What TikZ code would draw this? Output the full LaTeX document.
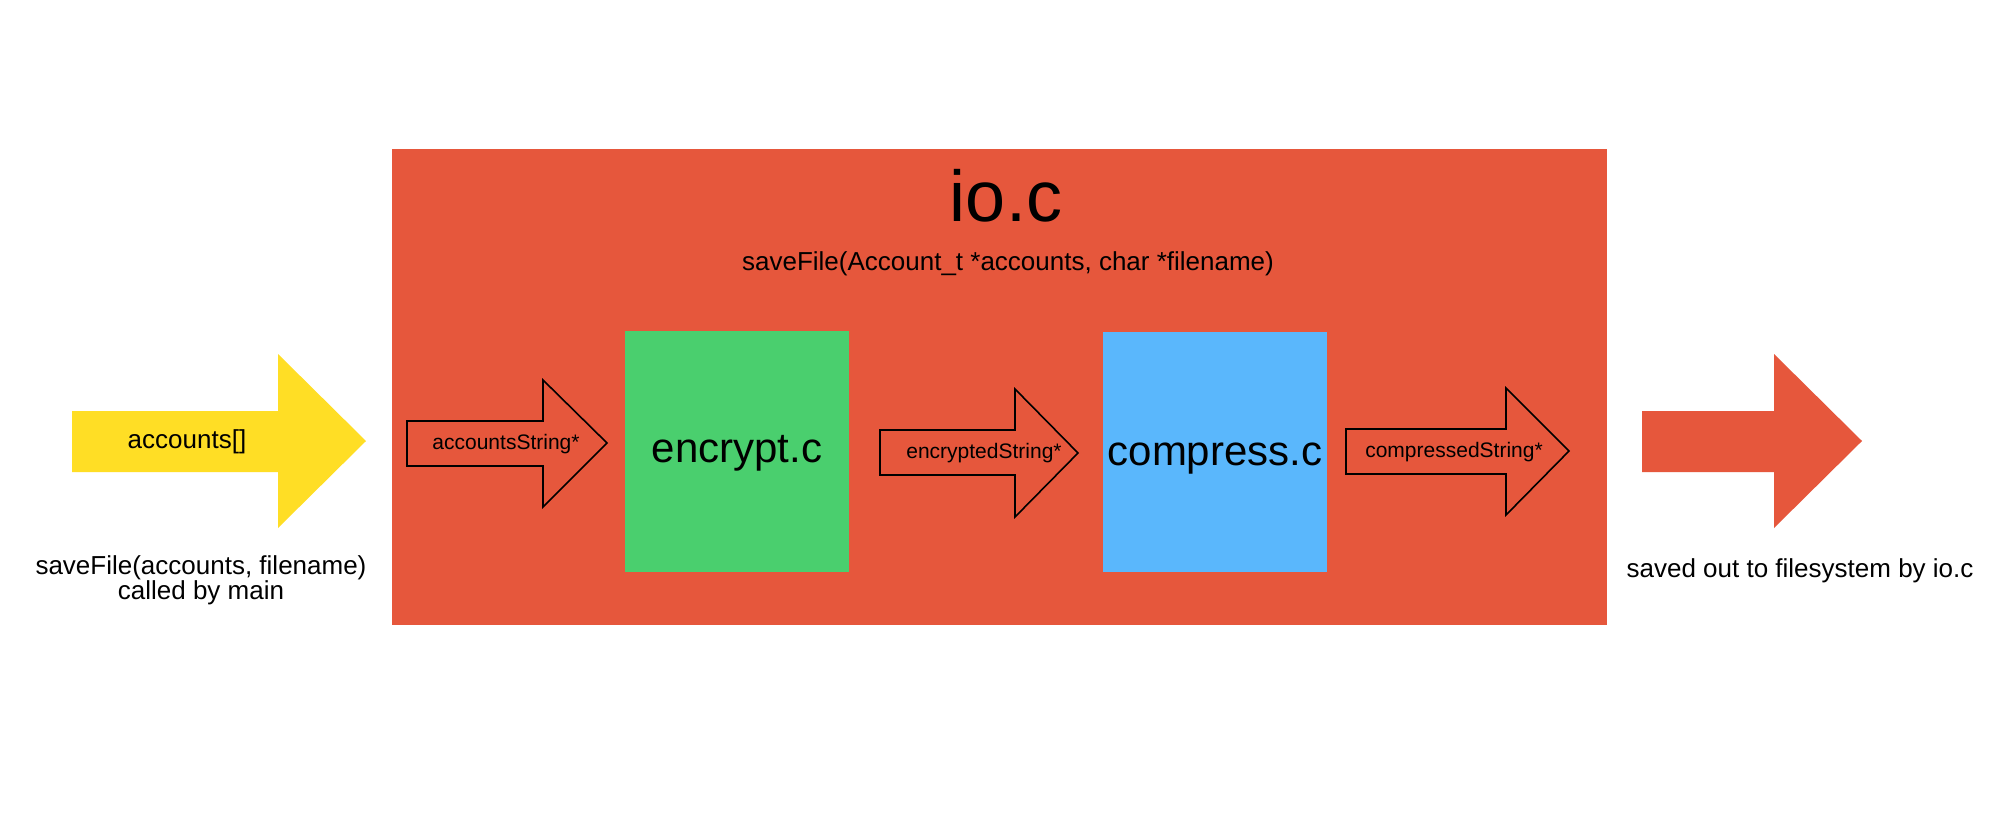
\documentclass[tikz,border=0pt]{standalone}
\usepackage{fontspec}
\setmainfont{Liberation Sans}
\definecolor{ioRed}{HTML}{E6573C}
\definecolor{inYellow}{HTML}{FFDE25}
\definecolor{encGreen}{HTML}{4ACF6E}
\definecolor{cmpBlue}{HTML}{5AB7FC}
\tikzset{
  lbl/.style={inner sep=0pt, font=\fontsize{26}{24.5}\selectfont, align=center},
  small/.style={inner sep=0pt, anchor=base, font=\fontsize{21}{24}\selectfont},
  big/.style={inner sep=0pt, anchor=base, font=\fontsize{42}{48}\selectfont},
  outlinearrow/.style={draw=black, line width=1.6pt, fill=ioRed, line join=miter},
}
\begin{document}
\begin{tikzpicture}[x=1pt,y=-1pt]
\useasboundingbox (0,0) rectangle (2005,825);
\fill[white] (0,0) rectangle (2005,825);
% main io.c box
\fill[ioRed] (392,149) rectangle (1607,625);
\node[inner sep=0pt, anchor=base, font=\fontsize{72}{80}\selectfont] (io) at (1006,221) {io.c};
\node[lbl, anchor=base] (sig) at (1008,270) {saveFile(Account\_t *accounts, char *filename)};
% input arrow
\fill[inYellow] (72,411) -- (278,411) -- (278,354) -- (366,441) -- (278,528) -- (278,472) -- (72,472) -- cycle;
\node[lbl, anchor=base] (acc) at (187,448) {accounts[]};
\node[lbl] (call) at (201,580.5) {saveFile(accounts, filename)\\called by main};
% output arrow
\fill[ioRed] (1642,411) -- (1774,411) -- (1774,354) -- (1862,441) -- (1774,528) -- (1774,472) -- (1642,472) -- cycle;
\node[lbl, anchor=base] (out) at (1800,577) {saved out to filesystem by io.c};
% modules
\fill[encGreen] (625,331) rectangle (849,572);
\node[big] (enc) at (737,462) {encrypt.c};
\fill[cmpBlue] (1103,332) rectangle (1327,572);
\node[big] (cmp) at (1215,465) {compress.c};
% inner arrows
\draw[outlinearrow] (407,421) -- (543,421) -- (543,380) -- (607,443) -- (543,507) -- (543,466) -- (407,466) -- cycle;
\node[small] (as) at (506,449) {accountsString*};
\draw[outlinearrow] (880,430) -- (1015,430) -- (1015,389) -- (1078,453) -- (1015,517) -- (1015,475) -- (880,475) -- cycle;
\node[small] (es) at (984,458.5) {encryptedString*};
\draw[outlinearrow] (1346,429) -- (1506,429) -- (1506,388) -- (1569,451) -- (1506,515) -- (1506,474) -- (1346,474) -- cycle;
\node[small] (cs) at (1454,457.5) {compressedString*};
\end{tikzpicture}
\end{document}
